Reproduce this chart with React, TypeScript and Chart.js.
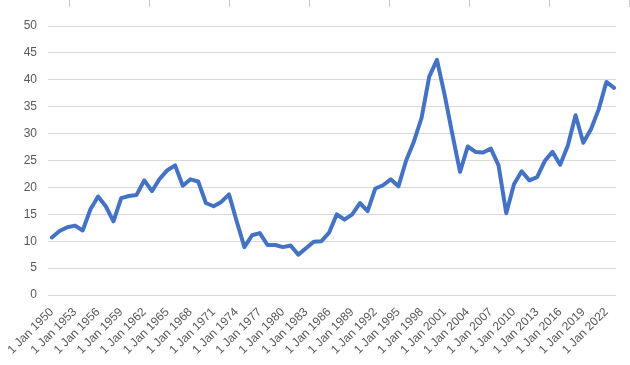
import React, { useEffect, useRef } from "react";
import { Chart, registerables } from "chart.js";

Chart.register(...registerables);

const years = [
  1950, 1951, 1952, 1953, 1954, 1955, 1956, 1957, 1958, 1959,
  1960, 1961, 1962, 1963, 1964, 1965, 1966, 1967, 1968, 1969,
  1970, 1971, 1972, 1973, 1974, 1975, 1976, 1977, 1978, 1979,
  1980, 1981, 1982, 1983, 1984, 1985, 1986, 1987, 1988, 1989,
  1990, 1991, 1992, 1993, 1994, 1995, 1996, 1997, 1998, 1999,
  2000, 2001, 2002, 2003, 2004, 2005, 2006, 2007, 2008, 2009,
  2010, 2011, 2012, 2013, 2014, 2015, 2016, 2017, 2018, 2019,
  2020, 2021, 2022, 2023,
];

const tickYears = [
  1950, 1953, 1956, 1959, 1962, 1965, 1968, 1971, 1974, 1977, 1980, 1983, 1986,
  1989, 1992, 1995, 1998, 2001, 2004, 2007, 2010, 2013, 2016, 2019, 2022,
];

const values = [
  10.7, 11.9, 12.6, 12.9, 12.0, 15.9, 18.3, 16.5, 13.7, 18.0,
  18.4, 18.6, 21.3, 19.3, 21.6, 23.2, 24.1, 20.3, 21.5, 21.1,
  17.1, 16.5, 17.3, 18.7, 13.7, 8.9, 11.1, 11.5, 9.3, 9.3,
  8.9, 9.2, 7.5, 8.7, 9.9, 10.0, 11.6, 15.0, 14.0, 15.0,
  17.1, 15.6, 19.8, 20.4, 21.5, 20.2, 25.0, 28.5, 32.9, 40.6,
  43.7, 37.2, 29.9, 22.9, 27.6, 26.6, 26.5, 27.2, 24.1, 15.2,
  20.6, 23.0, 21.3, 21.9, 24.9, 26.6, 24.2, 27.8, 33.4, 28.3,
  30.8, 34.5, 39.6, 38.5,
];

const yTicks = { min: 0, max: 50, step: 5 };

const topTicksPlugin = {
  id: "topTicks",
  afterDraw(chart: any) {
    const ctx = chart.ctx;
    ctx.save();
    ctx.strokeStyle = "#c8c8c8";
    ctx.lineWidth = 1;
    for (let x = 68.5; x < chart.width; x += 80.1) {
      ctx.beginPath();
      ctx.moveTo(Math.round(x) + 0.5, 0);
      ctx.lineTo(Math.round(x) + 0.5, 7);
      ctx.stroke();
    }
    ctx.restore();
  },
};

export default function App() {
  const ref = useRef<HTMLCanvasElement | null>(null);

  useEffect(() => {
    if (!ref.current) return;
    const font = { family: "'Liberation Sans', Arial, sans-serif", size: 12 };
    const chart = new Chart(ref.current, {
      type: "line",
      data: {
        datasets: [
          {
            data: years.map((y, i) => ({ x: y, y: values[i] })),
            borderColor: "#4472C4",
            backgroundColor: "#4472C4",
            borderWidth: 4,
            pointRadius: 0,
            tension: 0,
            borderJoinStyle: "round",
            borderCapStyle: "round",
            fill: false,
          },
        ],
      },
      options: {
        animation: false,
        responsive: false,
        maintainAspectRatio: false,
        layout: { padding: { top: 26, right: 14, left: 0, bottom: 0 } },
        plugins: {
          legend: { display: false },
          tooltip: { enabled: false },
          title: { display: false },
        },
        scales: {
          x: {
            type: "linear",
            min: years[0] - 0.5,
            max: years[years.length - 1] + 0.25,
            grid: { display: false },
            border: { display: false },
            afterBuildTicks: (s: any) => {
              s.ticks = tickYears.map((v) => ({ value: v }));
            },
            ticks: {
              autoSkip: false,
              maxRotation: 45,
              minRotation: 45,
              color: "#595959",
              font,
              padding: 2,
              callback: (v: any) => "1 Jan " + v,
            },
            afterFit: (s: any) => {
              s.height = 70;
            },
          },
          y: {
            min: yTicks.min,
            max: yTicks.max,
            grid: { color: "#d9d9d9", lineWidth: 1, drawTicks: false },
            border: { display: false },
            ticks: {
              stepSize: yTicks.step,
              color: "#595959",
              font,
              padding: 11,
            },
            afterFit: (s: any) => {
              s.width = 48;
            },
          },
        },
      },
      plugins: [topTicksPlugin],
    } as any);
    return () => chart.destroy();
  }, []);

  return (
    <div style={{ position: "absolute", left: 0, top: 0, width: 630, height: 365, background: "#fff" }}>
      <canvas ref={ref} width={630} height={365} style={{ width: 630, height: 365, display: "block" }} />
    </div>
  );
}
